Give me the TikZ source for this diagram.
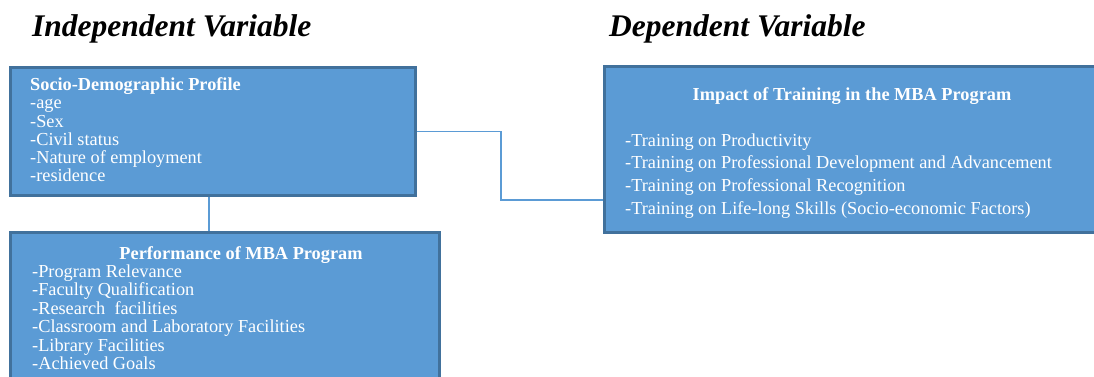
\documentclass[tikz,border=0pt]{standalone}
\usepackage{fontspec}
\setmainfont{Liberation Serif}
\definecolor{boxfill}{HTML}{5B9BD5}
\definecolor{boxline}{HTML}{41719C}
\begin{document}
\begin{tikzpicture}[x=1pt,y=-1pt,
  box/.style={draw=boxline,fill=boxfill,line width=2.5pt,rectangle,inner sep=0pt,anchor=north west},
  heading/.style={font=\fontsize{31.5}{36}\selectfont\bfseries\itshape,anchor=base west,inner sep=0pt,text=black},
  item/.style={font=\fontsize{18.3}{18.3}\selectfont,anchor=base west,inner sep=0pt,text=white},
  itemtitle/.style={font=\fontsize{18.3}{18.3}\selectfont\bfseries,inner sep=0pt,text=white},
  link/.style={draw=boxfill,line width=1.2pt}]
\useasboundingbox (0,0) rectangle (1094,376);
\clip (0,0) rectangle (1094,376);
% headings
\node[heading] (iv) at (32,36) {Independent Variable};
\node[heading] (dv) at (609,36) {Dependent Variable};
% boxes
\node[box,minimum width=405pt,minimum height=128pt] (sdp) at (9.25,66.25) {};
\node[box,minimum width=429pt,minimum height=160pt] (pmba) at (9.25,231.25) {};
\node[box,minimum width=500pt,minimum height=166pt] (imp) at (603.25,65.25) {};
% box 1 text
\node[itemtitle,anchor=base west] (sdpt) at (30,90.7) {Socio-Demographic Profile};
\foreach \t [count=\i] in {-age,-Sex,-Civil status,-Nature of employment,-residence}
  \node[item] (sdp\i) at (30,{90.7+18.2*\i}) {\t};
% box 2 text
\node[itemtitle,anchor=base] (pmbat) at (241,259) {Performance of MBA Program};
\foreach \t [count=\i] in {-Program Relevance,-Faculty Qualification,{-Research\ \ facilities},-Classroom and Laboratory Facilities,-Library Facilities,-Achieved Goals}
  \node[item] (pm\i) at (32,{259+18.4*\i}) {\t};
% box 3 text
\node[itemtitle,anchor=base] (impt) at (852,100) {Impact of Training in the MBA Program};
\foreach \t [count=\i] in {-Training on Productivity,-Training on Professional Development and Advancement,-Training on Professional Recognition,{-Training on Life-long Skills (Socio-economic Factors)}}
  \node[item] (im\i) at (625,{146+22.7*(\i-1)}) {\t};
% connectors
\coordinate (jn) at (501,200);
\draw[link] (sdp.east) -| (jn) -- (jn -| imp.west);
\draw[link] ([xshift=-4pt]sdp.south) -- ([xshift=-4pt]sdp.south |- pmba.north);
\end{tikzpicture}
\end{document}
